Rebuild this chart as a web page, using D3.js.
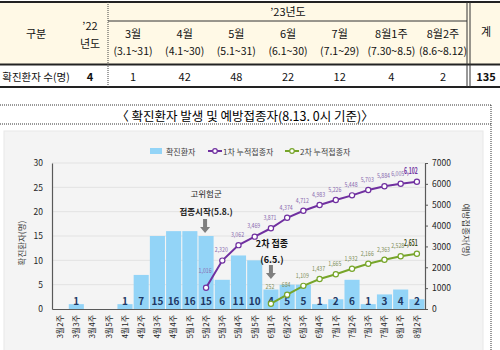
<!DOCTYPE html>
<html>
<head>
<meta charset="utf-8">
<script src="https://cdn.jsdelivr.net/npm/d3@7/dist/d3.min.js"></script>
<style>
  body { margin: 0; background: #fff; }
  svg { display: block; font-family: "Noto Sans CJK KR", "Noto Sans", sans-serif; }
</style>
</head>
<body>
<svg id="canvas"></svg>
<script>
// table data
const tableMonths = ["3월", "4월", "5월", "6월", "7월", "8월1주", "8월2주"];
const tableRanges = ["(3.1~31)", "(4.1~30)", "(5.1~31)", "(6.1~30)", "(7.1~29)", "(7.30~8.5)", "(8.6~8.12)"];
const tableValues = [1, 42, 48, 22, 12, 4, 2];
const prevYearValue = 4;
const totalValue = 135;

// chart data
const weeks = ["3월2주", "3월3주", "3월4주", "3월5주", "4월1주", "4월2주", "4월3주", "4월4주",
    "5월1주", "5월2주", "5월3주", "5월4주", "5월5주", "6월1주", "6월2주", "6월3주", "6월4주",
    "7월1주", "7월2주", "7월3주", "7월4주", "8월1주", "8월2주"];
const confirmed = [0, 1, 0, 0, 1, 7, 15, 16, 16, 15, 6, 11, 10, 4, 5, 5, 1, 2, 6, 1, 3, 4, 2];
const dose1 = [null, null, null, null, null, null, null, null, null,
    1016, 2320, 3062, 3469, 3871, 4374, 4712, 4983, 5226, 5448, 5703, 5884, 6005, 6102];
const dose2 = [null, null, null, null, null, null, null, null, null, null, null, null, null,
    252, 684, 1109, 1437, 1665, 1932, 2166, 2363, 2528, 2651];
const leftTicks = [0, 5, 10, 15, 20, 25, 30];
const rightTicks = [0, 1000, 2000, 3000, 4000, 5000, 6000, 7000];

const width = 500, height = 350;
const svg = d3.select("#canvas").attr("width", width).attr("height", height);

// ---------- table ----------
const table = svg.append("g").classed("table", true);
table.append("rect").attr("x", 0).attr("y", 2).attr("width", 500).attr("height", 63).attr("fill", "#fff9e6");

const colX = d3.scalePoint().domain(tableMonths).range([133, 443]);

table.append("line").attr("x1", 0).attr("x2", 500).attr("y1", 2).attr("y2", 2).attr("stroke", "#222").attr("stroke-width", 2);
table.append("line").attr("x1", 108).attr("x2", 467).attr("y1", 21).attr("y2", 21).attr("stroke", "#333").attr("stroke-width", 1);
table.append("line").attr("x1", 0).attr("x2", 500).attr("y1", 64.5).attr("y2", 64.5).attr("stroke", "#222").attr("stroke-width", 2);
table.append("line").attr("x1", 0).attr("x2", 500).attr("y1", 87).attr("y2", 87).attr("stroke", "#222").attr("stroke-width", 2);
table.append("line").attr("x1", 108).attr("x2", 108).attr("y1", 2).attr("y2", 87)
    .attr("stroke", "#444").attr("stroke-dasharray", "1,1");
[467, 470].forEach(x => table.append("line").attr("x1", x).attr("x2", x).attr("y1", 2).attr("y2", 87)
    .attr("stroke", "#333").attr("stroke-width", 1));

const tText = (x, y, t, size = 11) => table.append("text").attr("x", x).attr("y", y)
    .attr("text-anchor", "middle").attr("dominant-baseline", "central")
    .attr("font-size", size).attr("fill", "#111").text(t);

tText(36, 33, "구분");
tText(90, 25, "’22");
tText(90, 43, "년도");
tText(288, 11, "’23년도");
tText(486, 31, "계");
tableMonths.forEach((m, i) => {
    tText(colX(m), 33, m);
    tText(colX(m), 50, tableRanges[i], 10.5);
    tText(colX(m), 76, tableValues[i]);
});
tText(36, 76, "확진환자 수(명)", 10.5);
tText(90, 76, prevYearValue).attr("font-weight", "bold");
tText(486, 76, totalValue).attr("font-weight", "bold");

// ---------- title ----------
svg.append("line").attr("x1", 0).attr("x2", 491).attr("y1", 105).attr("y2", 105)
    .attr("stroke", "#333").attr("stroke-dasharray", "1,1");
svg.append("line").attr("x1", 0).attr("x2", 491).attr("y1", 124).attr("y2", 124)
    .attr("stroke", "#333").attr("stroke-dasharray", "1,1");
svg.append("line").attr("x1", 491).attr("x2", 491).attr("y1", 105).attr("y2", 350)
    .attr("stroke", "#333").attr("stroke-dasharray", "1,1");
svg.append("text").attr("x", 245).attr("y", 115).attr("text-anchor", "middle")
    .attr("dominant-baseline", "central").attr("font-size", 12.5).attr("fill", "#000")
    .text("〈 확진환자 발생 및 예방접종자(8.13. 0시 기준)〉");

// ---------- chart ----------
svg.append("rect").attr("x", 4).attr("y", 131).attr("width", 479).attr("height", 222)
    .attr("fill", "#f4f4f4").attr("stroke", "#e8e8e8");

const plot = { left: 52, right: 425, top: 163, bottom: 309 };

const x = d3.scaleBand().domain(weeks).range([plot.left, plot.right]).paddingInner(0.07).paddingOuter(0.035);
const y = d3.scaleLinear().domain([0, 30]).range([plot.bottom, plot.top]);
const y2 = d3.scaleLinear().domain([0, 7000]).range([plot.bottom, plot.top]);
const cx = w => x(w) + x.bandwidth() / 2;

// gridlines
svg.append("g").selectAll("line").data(leftTicks.filter(d => d > 0)).join("line")
    .attr("x1", plot.left).attr("x2", plot.right)
    .attr("y1", d => y(d)).attr("y2", d => y(d))
    .attr("stroke", "#e2e2e2").attr("stroke-width", 1);

// bars
const barData = confirmed.map((v, i) => ({ w: weeks[i], v }));
svg.append("g").selectAll("rect").data(barData).join("rect")
    .attr("x", d => x(d.w))
    .attr("width", x.bandwidth())
    .attr("y", d => y(d.v))
    .attr("height", d => y(0) - y(d.v))
    .attr("fill", "#93d4f7");

svg.append("g").selectAll("text").data(barData.filter(d => d.v > 0)).join("text")
    .attr("x", d => cx(d.w))
    .attr("y", y(0) - 9)
    .attr("text-anchor", "middle").attr("dominant-baseline", "central")
    .attr("font-size", 10).attr("font-weight", "bold").attr("fill", "#1f3864")
    .text(d => d.v);

// axes
const axisLeft = svg.append("g").attr("transform", `translate(${plot.left},0)`)
    .call(d3.axisLeft(y).tickValues(leftTicks).tickSize(0).tickPadding(9));
axisLeft.select(".domain").attr("stroke", "#595959").attr("stroke-width", 1.2);
axisLeft.selectAll("text").attr("font-size", 8.5).attr("fill", "#262626").attr("font-family", "Noto Sans CJK KR");

const axisRight = svg.append("g").attr("transform", `translate(${plot.right},0)`)
    .call(d3.axisRight(y2).tickValues(rightTicks).tickFormat(d3.format("d")).tickSize(3).tickSizeOuter(0).tickPadding(4));
axisRight.selectAll("line").attr("stroke", "#595959");
axisRight.select(".domain").attr("stroke", "#595959").attr("stroke-width", 1.2);
axisRight.selectAll("text").attr("font-size", 8.5).attr("fill", "#262626").attr("font-family", "Noto Sans CJK KR");

const axisBottom = svg.append("g").attr("transform", `translate(0,${plot.bottom})`)
    .call(d3.axisBottom(x).tickSize(0).tickSizeOuter(0));
axisBottom.select(".domain").attr("stroke", "#595959").attr("stroke-width", 1.2);
axisBottom.selectAll("text")
    .attr("font-size", 8).attr("fill", "#262626").attr("font-family", "Noto Sans CJK KR")
    .attr("text-anchor", "end")
    .attr("transform", "rotate(-90)")
    .attr("x", -6).attr("y", 0).attr("dy", "0.35em");

// axis titles
svg.append("text").attr("transform", "translate(21,243) rotate(-90)")
    .attr("text-anchor", "middle").attr("dominant-baseline", "central")
    .attr("font-size", 8.5).attr("fill", "#404040").text("확진환자(명)");
svg.append("text").attr("transform", "translate(467,230) rotate(90)")
    .attr("text-anchor", "middle").attr("dominant-baseline", "central")
    .attr("font-size", 8.5).attr("fill", "#404040").text("예방접종자(명)");

// lines
function drawLine(values, color, labelColor, lastColor) {
    const pts = values.map((v, i) => ({ w: weeks[i], v })).filter(d => d.v != null);
    const last = pts.length - 1;
    const line = d3.line().x(d => cx(d.w)).y(d => y2(d.v));
    svg.append("path").attr("d", line(pts)).attr("fill", "none")
        .attr("stroke", color).attr("stroke-width", 2);
    svg.append("g").selectAll("circle").data(pts).join("circle")
        .attr("cx", d => cx(d.w)).attr("cy", d => y2(d.v))
        .attr("r", 2.6).attr("fill", "#fff").attr("stroke", color).attr("stroke-width", 1.2);
    // condensed value labels (horizontal squeeze like the original)
    svg.append("g").selectAll("text").data(pts).join("text")
        .attr("transform", (d, i) => {
            const lx = cx(d.w) - (i === last ? 6 : i === last - 1 ? 3 : 1);
            const ly = y2(d.v) - (i === 0 ? 18 : 11);
            return `translate(${lx},${ly}) scale(${i === last ? 0.6 : 0.75},1)`;
        })
        .attr("text-anchor", "middle").attr("dominant-baseline", "central")
        .attr("font-size", (d, i) => i === last ? 8.5 : 7)
        .attr("font-weight", (d, i) => i === last ? "bold" : "normal")
        .attr("fill", (d, i) => i === last ? lastColor : labelColor)
        .text(d => d3.format(",")(d.v));
}
drawLine(dose1, "#7030a0", "#8a6cb0", "#7030a0");
drawLine(dose2, "#77a52a", "#7f8f5a", "#3f4f1a");

// annotations
function arrow(ax, y0) {
    svg.append("path")
        .attr("d", `M${ax - 2},${y0} h4 v8 h3 l-5,6 l-5,-6 h3 z`)
        .attr("fill", "#7f7f7f");
}
const c1 = cx("5월2주");
const c2 = cx("6월1주");
svg.append("text").attr("x", c1).attr("y", 193).attr("text-anchor", "middle").attr("dominant-baseline", "central")
    .attr("font-size", 8.5).attr("fill", "#262626").text("고위험군");
svg.append("text").attr("x", c1).attr("y", 211).attr("text-anchor", "middle").attr("dominant-baseline", "central")
    .attr("font-size", 8.5).attr("font-weight", "bold").attr("fill", "#262626").text("접종시작(5.8.)");
arrow(c1 - 1, 219);
svg.append("text").attr("x", c2 + 1).attr("y", 243).attr("text-anchor", "middle").attr("dominant-baseline", "central")
    .attr("font-size", 9).attr("font-weight", "bold").attr("fill", "#111").text("2차 접종");
svg.append("text").attr("x", c2 + 1).attr("y", 259).attr("text-anchor", "middle").attr("dominant-baseline", "central")
    .attr("font-size", 9).attr("font-weight", "bold").attr("fill", "#111").text("(6.5.)");
arrow(c2, 265);

// legend
const legend = svg.append("g").attr("font-size", 8).attr("fill", "#404040");
legend.append("rect").attr("x", 150).attr("y", 148).attr("width", 12).attr("height", 6).attr("fill", "#93d4f7");
legend.append("text").attr("x", 166).attr("y", 151).attr("dominant-baseline", "central").text("확진환자");
[[208, "#7030a0", "1차 누적접종자"], [285, "#77a52a", "2차 누적접종자"]].forEach(([lx, c, t]) => {
    legend.append("line").attr("x1", lx).attr("x2", lx + 14).attr("y1", 151).attr("y2", 151)
        .attr("stroke", c).attr("stroke-width", 2);
    legend.append("circle").attr("cx", lx + 7).attr("cy", 151).attr("r", 2.3)
        .attr("fill", "#fff").attr("stroke", c).attr("stroke-width", 1.2);
    legend.append("text").attr("x", lx + 15).attr("y", 151).attr("dominant-baseline", "central").text(t);
});
</script>
</body>
</html>
